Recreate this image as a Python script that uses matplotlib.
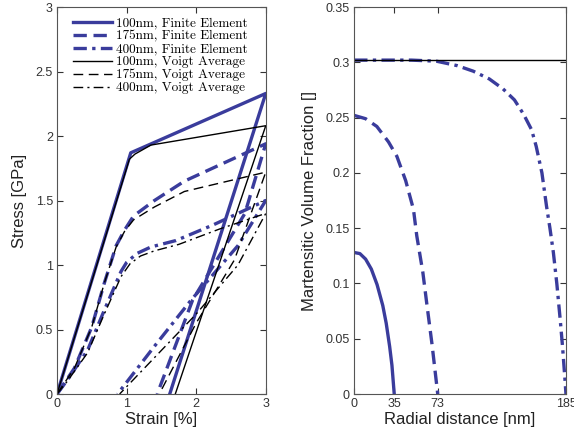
import matplotlib.pyplot as plt
from matplotlib.ticker import FormatStrFormatter

# --- stress-strain (left panel) ---
fe100_strain = [0, 1.06, 3.0, 1.62]
fe100_stress = [0, 1.87, 2.33, 0]
va100_strain = [0, 1.04, 1.12, 1.35, 3.0, 1.70]
va100_stress = [0, 1.82, 1.86, 1.93, 2.08, 0]

fe175_strain = [0, 0.25, 0.5, 0.68, 0.85, 0.97, 1.1, 1.4, 1.83, 3.0, 2.7, 1.95, 1.44]
fe175_stress = [0, 0.20, 0.52, 0.86, 1.15, 1.27, 1.38, 1.50, 1.65, 1.94, 1.40, 0.73, 0]
va175_strain = [0, 0.25, 0.5, 0.68, 0.85, 0.97, 1.1, 1.4, 1.83, 3.0, 2.55, 2.0, 1.47]
va175_stress = [0, 0.20, 0.52, 0.86, 1.14, 1.26, 1.35, 1.45, 1.57, 1.72, 1.04, 0.55, 0]

fe400_strain = [0, 0.15, 0.44, 0.68, 0.92, 1.0, 1.15, 1.35, 1.71, 2.24, 3.0, 2.6, 1.93, 1.40, 0.87]
fe400_stress = [0, 0.11, 0.34, 0.65, 0.95, 1.02, 1.09, 1.14, 1.19, 1.31, 1.50, 1.15, 0.73, 0.37, 0]
va400_strain = [0, 0.15, 0.44, 0.68, 0.92, 1.05, 1.2, 1.4, 1.75, 2.34, 3.0, 2.6, 2.0, 0.90]
va400_stress = [0, 0.10, 0.32, 0.62, 0.91, 1.01, 1.07, 1.11, 1.16, 1.28, 1.40, 1.00, 0.62, 0]

# --- martensite volume fraction (right panel) ---
r100 = [0, 5, 10, 15, 20, 25, 28, 31, 33, 35]
v100 = [0.128, 0.127, 0.122, 0.113, 0.099, 0.080, 0.064, 0.043, 0.026, 0.0]
r175 = [0, 10, 19.8, 30, 37.3, 45, 51.8, 54.7, 60, 63.4, 68, 73]
v175 = [0.252, 0.249, 0.242, 0.228, 0.215, 0.193, 0.167, 0.143, 0.110, 0.082, 0.045, 0.0]
r400 = [0, 30, 50, 72, 90, 104, 118, 130, 140, 148, 155, 159, 164, 168, 171, 174, 177, 180, 182, 184, 185]
v400 = [0.302, 0.302, 0.302, 0.301, 0.297, 0.292, 0.285, 0.276, 0.266, 0.253, 0.239, 0.224,
        0.200, 0.170, 0.150, 0.128, 0.100, 0.067, 0.043, 0.015, 0.0]
voigt_r = [0, 185]
voigt_v = [0.302, 0.302]

radial_ticks = [0, 35, 73, 185]

blue = '#3a3c9c'
dash = (0, (4, 2))
dashdot = (0, (4, 1.6, 1, 1.6))
thin_dash = (0, (7, 4))
thin_dashdot = (0, (7, 3, 1.5, 3))

plt.rcParams['font.family'] = 'Liberation Sans'

fig = plt.figure(figsize=(5.74, 4.4), dpi=100)
ax1 = fig.add_axes([0.0993, 0.1045, 0.3637, 0.8795])
ax2 = fig.add_axes([0.617, 0.1045, 0.369, 0.8795])

ax1.plot(fe100_strain, fe100_stress, color=blue, lw=2.4, label='100nm, Finite Element')
ax1.plot(fe175_strain, fe175_stress, color=blue, lw=2.4, linestyle=dash, label='175nm, Finite Element')
ax1.plot(fe400_strain, fe400_stress, color=blue, lw=2.4, linestyle=dashdot, label='400nm, Finite Element')
ax1.plot(va100_strain, va100_stress, color='black', lw=1.0, label='100nm, Voigt Average')
ax1.plot(va175_strain, va175_stress, color='black', lw=1.0, linestyle=thin_dash, label='175nm, Voigt Average')
ax1.plot(va400_strain, va400_stress, color='black', lw=1.0, linestyle=thin_dashdot, label='400nm, Voigt Average')

ax1.set_xlim(0, 3)
ax1.set_ylim(0, 3)
ax1.set_xticks([0, 1, 2, 3])
ax1.set_yticks([0, 0.5, 1, 1.5, 2, 2.5, 3])
ax1.yaxis.set_major_formatter(FormatStrFormatter('%g'))
ax1.set_xlabel('Strain [%]', fontsize=12, labelpad=1)
ax1.set_ylabel('Stress [GPa]', fontsize=12, labelpad=6)
leg = ax1.legend(loc='upper left', frameon=False, prop={'family': 'cmr10', 'size': 9.5},
                 handlelength=2.9, handletextpad=0.35, labelspacing=0.06, borderaxespad=0.2,
                 bbox_to_anchor=(0.04, 0.995))

ax2.plot(r100, v100, color=blue, lw=2.4)
ax2.plot(r175, v175, color=blue, lw=2.4, linestyle=dash)
ax2.plot(r400, v400, color=blue, lw=2.4, linestyle=dashdot)
ax2.plot(voigt_r, voigt_v, color='black', lw=1.0)
ax2.set_xlim(0, 185)
ax2.set_ylim(0, 0.35)
ax2.set_xticks(radial_ticks)
ax2.set_yticks([0, 0.05, 0.1, 0.15, 0.2, 0.25, 0.3, 0.35])
ax2.yaxis.set_major_formatter(FormatStrFormatter('%g'))
ax2.set_xlabel('Radial distance [nm]', fontsize=12, labelpad=1)
ax2.set_ylabel('Martensitic Volume Fraction []', fontsize=12, labelpad=6)

for ax in (ax1, ax2):
    ax.tick_params(direction='in', top=True, right=True, length=4, width=0.8,
                   labelsize=9, colors='#333333', pad=3)
    for s in ax.spines.values():
        s.set_color('#555555')
        s.set_linewidth(0.8)
    ax.xaxis.label.set_color('#222222')
    ax.yaxis.label.set_color('#222222')

fig.savefig('out.png', dpi=100)
plt.close(fig)
